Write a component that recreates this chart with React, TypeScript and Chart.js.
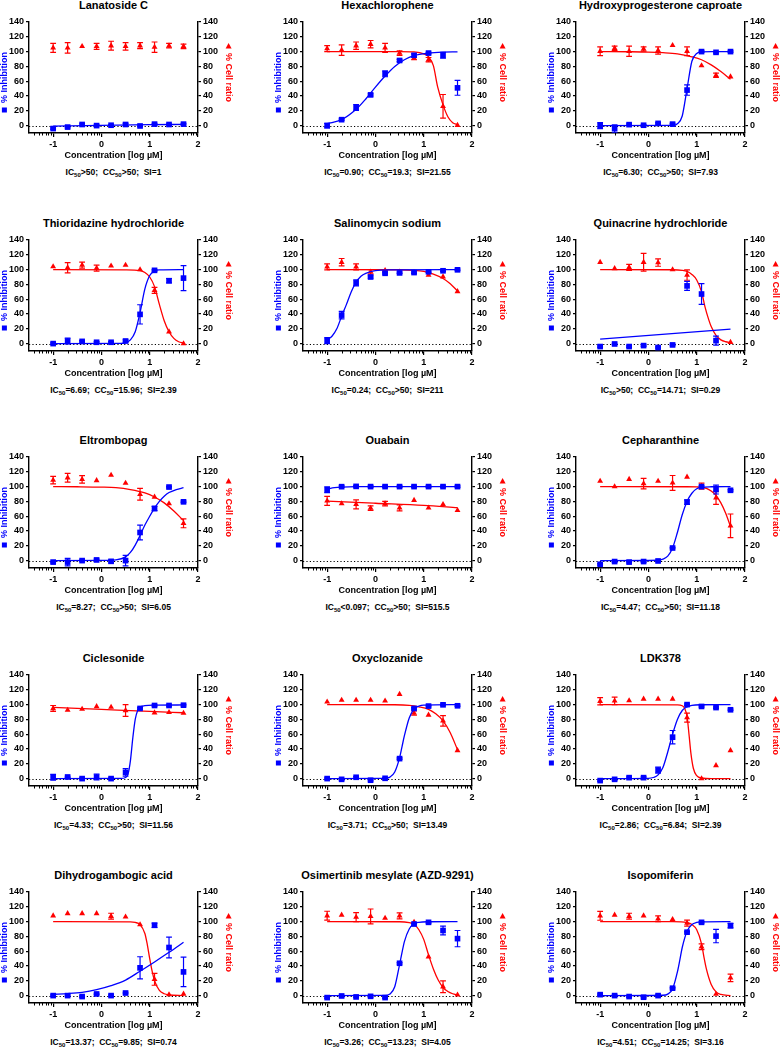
import React, { useEffect, useRef } from "react";
import { Chart, registerables } from "chart.js";

Chart.register(...registerables);

const FONT = "'Liberation Sans', Arial, Helvetica, sans-serif";
const BLUE = "#0000ff";
const RED = "#ff0000";

// ---------- shared axis data ----------
const concLog = [-1, -0.7, -0.4, -0.1, 0.2, 0.5, 0.8, 1.1, 1.4, 1.7];
const yTickValues = [0, 20, 40, 60, 80, 100, 120, 140];
const xTickValues = [-1, 0, 1, 2];
const minorDecades = [-2, -1, 0, 1];
const minorMultipliers = [2, 3, 4, 5, 6, 7, 8, 9];
const leftTitle = "% Inhibition";
const rightTitle = "% Cell ratio";
const xTitle = "Concentration [log \u00B5M]";

const titles = [
  "Lanatoside C",
  "Hexachlorophene",
  "Hydroxyprogesterone caproate",
  "Thioridazine hydrochloride",
  "Salinomycin sodium",
  "Quinacrine hydrochloride",
  "Eltrombopag",
  "Ouabain",
  "Cepharanthine",
  "Ciclesonide",
  "Oxyclozanide",
  "LDK378",
  "Dihydrogambogic acid",
  "Osimertinib mesylate (AZD-9291)",
  "Isopomiferin",
];
const icLabels = [">50", "=0.90", "=6.30", "=6.69", "=0.24", ">50", "=8.27", "<0.097", "=4.47", "=4.33", "=3.71", "=2.86", "=13.37", "=3.26", "=4.51"];
const ccLabels = [">50", "=19.3", ">50", "=15.96", ">50", "=14.71", ">50", ">50", ">50", ">50", ">50", "=6.84", "=9.85", "=13.23", "=14.25"];
const siLabels = ["=1", "=21.55", "=7.93", "=2.39", "=211", "=0.29", "=6.05", "=515.5", "=11.18", "=11.56", "=13.49", "=2.39", "=0.74", "=4.05", "=3.16"];

type Pt = [number, number];
type Val = number | null;

// ---------- Lanatoside C ----------
const lanInh: Val[] = [-4, -2, 1.5, 0, 0.5, 1.5, -0.5, 2, 1.5, 2];
const lanInhErr = [1, 1, 1, 1, 1, 1.5, 1, 1, 1, 1];
const lanCell: Val[] = [105, 105, 107, 107, 108, 107, 108, 106, 108, 107];
const lanCellErr = [6, 7, 0, 4, 6, 5, 4, 7, 3, 3];
const lanInhFit: Pt[] = [[-1, -0.8], [0, 0.4], [1, 1.2], [1.7, 1.6]];
const lanCellFit: Pt[] | null = null;

// ---------- Hexachlorophene ----------
const hexInh: Val[] = [0, 8, 24.5, 41.5, 70, 88, 95, 98, 95, 51];
const hexInhErr = [3, 1, 4, 1.5, 4, 1.5, 2, 1, 4, 10];
const hexCell: Val[] = [104, 102, 108, 110, 105, 98, 91, 89, 26, 0.5];
const hexCellErr = [4, 7, 5, 5, 6, 3, 2, 3, 16, 0];
const hexInhFit: Pt[] = [[-1, 2.5], [-0.7, 8], [-0.4, 22], [-0.2, 36], [0, 52], [0.2, 67], [0.4, 80], [0.6, 89], [0.8, 94.5], [1.1, 97.8], [1.4, 99.2], [1.7, 99.7]];
const hexCellFit: Pt[] = [[-1, 100], [0.5, 100], [0.8, 99.5], [1.0, 97], [1.1, 93], [1.2, 81], [1.29, 52], [1.4, 28], [1.5, 12], [1.6, 4], [1.7, 1.5]];

// ---------- Hydroxyprogesterone caproate ----------
const hpcInh: Val[] = [0, -4, 1.3, 0.5, 3, 2, 48, 100, 99, 100];
const hpcInhErr = [4, 5, 1, 1, 1, 1, 7, 1, 1, 1];
const hpcCell: Val[] = [100.5, 104.5, 100.5, 103.5, 101.5, 108.5, 100.5, 81, 68, 66];
const hpcCellErr = [6, 3, 7, 3, 5, 0, 6, 0, 3, 0];
const hpcInhFit: Pt[] = [[-1, 0], [0.5, 0.2], [0.6, 2.5], [0.7, 13], [0.8, 50], [0.9, 87], [1.0, 97.5], [1.1, 99.6], [1.3, 100], [1.7, 100]];
const hpcCellFit: Pt[] = [[-1, 100], [-0.4, 99.8], [0, 99.4], [0.3, 98.6], [0.6, 97], [0.9, 93], [1.1, 89], [1.3, 82], [1.5, 73], [1.7, 62.5]];

// ---------- Thioridazine hydrochloride ----------
const thiInh: Val[] = [0, 3.5, 3, 1.8, 1.8, 3.5, 39.5, 99, 85, 88.5];
const thiInhErr = [1, 4, 1, 1, 1, 1.5, 13, 1, 3, 17];
const thiCell: Val[] = [104, 102.5, 106, 102, 105, 106, 100, 72, 16, 0];
const thiCellErr = [0, 7, 4, 4, 0, 0, 0, 4, 0, 0];
const thiInhFit: Pt[] = [[-1, 0], [0.4, 0.3], [0.5, 1], [0.6, 5], [0.7, 16], [0.8, 42], [0.9, 74], [1.0, 92], [1.1, 98], [1.2, 99.5], [1.7, 100]];
const thiCellFit: Pt[] = [[-1, 100], [0.5, 99.7], [0.8, 98.5], [0.9, 96], [1.0, 90], [1.1, 77], [1.2, 53], [1.3, 31], [1.4, 16], [1.5, 7], [1.6, 2.5], [1.7, 1]];

// ---------- Salinomycin sodium ----------
const salInh: Val[] = [4, 38.5, 82, 90, 95, 95.5, 96, 97, 98.4, 99.7];
const salInhErr = [4, 5, 4, 1.5, 1, 1, 1, 1, 1, 1];
const salCell: Val[] = [103.7, 110, 103.7, 97, 99, 97, 96, 92.6, 90.4, 70.4];
const salCellErr = [4, 5, 4, 3, 1, 0, 0, 0, 0, 0];
const salInhFit: Pt[] = [[-1, 5], [-0.9, 10], [-0.8, 20], [-0.7, 37], [-0.6, 53], [-0.5, 70], [-0.4, 83], [-0.3, 91], [-0.2, 95], [0, 98.5], [0.3, 99.6], [1.7, 100]];
const salCellFit: Pt[] = [[-1, 100], [0.5, 99.8], [0.8, 99], [1.0, 97.5], [1.2, 94], [1.4, 88], [1.55, 81], [1.7, 71]];

// ---------- Quinacrine hydrochloride ----------
const quiInh: Val[] = [-4, -0.5, -4, -2.7, -5.3, -1.8, 78, 67, 4, null];
const quiInhErr = [1, 1, 1, 1, 1, 1, 6, 14, 6, 0];
const quiCell: Val[] = [110, 101.5, 103, 110, 109.5, 100, 92.6, null, null, 1.8];
const quiCellErr = [0, 0, 4, 12, 5, 0, 7, 0, 0, 0];
const quiInhFit: Pt[] = [[-1, 6], [1.7, 19.5]];
const quiCellFit: Pt[] = [[-1, 100], [0.5, 99.8], [0.7, 99], [0.8, 97.5], [0.9, 93.5], [1.0, 86], [1.1, 70], [1.17, 50], [1.25, 32], [1.3, 23], [1.4, 11], [1.5, 5], [1.6, 2.5], [1.7, 1.5]];

// ---------- Eltrombopag ----------
const eltInh: Val[] = [-2, -2, 0, 0.9, -1, 0, 38, 70.4, 99.4, 79.4];
const eltInhErr = [1, 5, 1, 1, 2, 7, 10, 3, 1, 1];
const eltCell: Val[] = [108.8, 112, 109.7, 108.3, 115.5, 104.8, 89.6, 86, 77, 50.4];
const eltCellErr = [5, 6, 5, 0, 0, 0, 8, 0, 0, 6];
const eltInhFit: Pt[] = [[-1, 0], [0, 0.2], [0.3, 1], [0.5, 5], [0.6, 11], [0.7, 21], [0.8, 34], [0.9, 48], [1.0, 60], [1.1, 71], [1.2, 80], [1.3, 87], [1.4, 92], [1.55, 96], [1.7, 98.5]];
const eltCellFit: Pt[] = [[-1, 100], [-0.5, 99.8], [0, 99.3], [0.3, 98.5], [0.6, 96], [0.9, 91.5], [1.1, 86], [1.3, 78], [1.5, 67], [1.7, 54]];

// ---------- Ouabain ----------
const ouaInh: Val[] = [95.8, 99.9, 100.3, 100, 100, 100, 100, 100, 100, 100];
const ouaInhErr = [4, 1, 1, 1, 1, 1, 1, 1, 1, 1];
const ouaCell: Val[] = [80.7, 77, 76, 71, 77, 71.3, 81.6, 71.3, 76, 68];
const ouaCellErr = [6, 0, 6, 3, 3, 4, 0, 0, 0, 0];
const ouaInhFit: Pt[] = [[-1, 96.5], [-0.85, 98.5], [-0.7, 99.4], [-0.4, 99.9], [1.7, 100]];
const ouaCellFit: Pt[] = [[-1, 80.5], [0, 77.5], [1, 74.5], [1.7, 71.5]];

// ---------- Cepharanthine ----------
const cepInh: Val[] = [-5, -1.3, -2, -1.3, -0.5, 17, 79, 100, 96, 95];
const cepInhErr = [1, 1, 1, 1, 1, 1, 3, 1, 6, 1];
const cepCell: Val[] = [107.4, 100, 110, 104, 107.4, 105, 113, 100.7, 85, 47];
const cepCellErr = [0, 0, 0, 7, 0, 10, 0, 4, 9, 16];
const cepInhFit: Pt[] = [[-1, 0], [0.2, 0.5], [0.3, 2], [0.4, 6], [0.5, 17], [0.6, 38], [0.7, 62], [0.8, 80], [0.9, 91], [1.0, 97], [1.1, 99], [1.3, 99.8], [1.7, 100]];
const cepCellFit: Pt[] = [[-1, 100], [0.8, 99.8], [1.0, 99.5], [1.1, 99], [1.2, 97.5], [1.3, 94], [1.4, 88], [1.5, 78], [1.6, 64], [1.7, 46]];

// ---------- Ciclesonide ----------
const cicInh: Val[] = [1.8, 2.2, 0, 2.2, 0, 8.4, 94.8, 98.8, 98.8, 99.2];
const cicInhErr = [4, 1, 1, 4, 1, 5, 1, 1, 1, 1];
const cicCell: Val[] = [94.8, 92.6, 94, 97.5, 96.6, 92, null, 89, 89.5, 88.6];
const cicCellErr = [4, 0, 0, 0, 0, 8, 0, 0, 0, 0];
const cicInhFit: Pt[] = [[-1, 0], [0.4, 0.2], [0.5, 1.5], [0.55, 6], [0.6, 24], [0.65, 55], [0.7, 80], [0.75, 92], [0.8, 96.5], [0.9, 98.5], [1.1, 99.3], [1.7, 99.5]];
const cicCellFit: Pt[] = [[-1, 96.2], [0, 93.5], [1, 90.8], [1.7, 89]];

// ---------- Oxyclozanide ----------
const oxyInh: Val[] = [0, -1, 1.8, -2.2, 0.4, 27, 94.8, 98, 99.7, 98.4];
const oxyInhErr = [1, 1, 1, 1, 1, 1, 1, 1, 1, 1];
const oxyCell: Val[] = [103.7, 106, 106, 106, 105, 114, 88.6, 86, 78, 38];
const oxyCellErr = [0, 0, 0, 0, 0, 0, 3, 0, 7, 0];
const oxyInhFit: Pt[] = [[-1, 0], [0.1, 0.2], [0.2, 0.6], [0.3, 2], [0.4, 9], [0.5, 28], [0.55, 43], [0.6, 58], [0.7, 82], [0.8, 94], [0.9, 98], [1.0, 99.4], [1.7, 100]];
const oxyCellFit: Pt[] = [[-1, 100], [0.4, 99.8], [0.7, 99], [0.9, 97], [1.1, 93.5], [1.25, 87.5], [1.4, 78], [1.55, 62], [1.7, 39]];

// ---------- LDK378 ----------
const ldkInh: Val[] = [-2.7, -1, 1.3, 1.3, 11.5, 56, 100, 97.5, 96, 93];
const ldkInhErr = [1, 1, 1, 1, 4, 9, 1, 1, 1, 1];
const ldkCell: Val[] = [104.5, 105, 105.4, 107.6, 107.6, 107.6, 82.4, 0, 17.7, 38];
const ldkCellErr = [5, 5, 0, 0, 0, 0, 6, 0, 0, 0];
const ldkInhFit: Pt[] = [[-1, 0], [0, 0.4], [0.1, 1.5], [0.2, 5], [0.3, 15], [0.4, 36], [0.5, 60], [0.6, 80], [0.7, 92], [0.8, 97], [0.9, 99], [1.1, 99.8], [1.7, 100]];
const ldkCellFit: Pt[] = [[-1, 100], [0.6, 99.7], [0.7, 98.5], [0.75, 95], [0.8, 84], [0.84, 60], [0.88, 34], [0.93, 14], [1.0, 4], [1.1, 0.8], [1.3, 0], [1.7, 0]];

// ---------- Dihydrogambogic acid ----------
const dhgInh: Val[] = [0, 0, -1.3, 2.2, 0, 3.5, 37.5, 95, 65, 32];
const dhgInhErr = [1, 1, 1, 1, 1, 1, 15, 3, 14, 20];
const dhgCell: Val[] = [108, 111, 111, 111, 107.3, 106.5, 96, 22, 1.3, 2.2];
const dhgCellErr = [0, 0, 0, 0, 4, 0, 0, 8, 0, 0];
const dhgInhFit: Pt[] = [[-1, 1.8], [-0.7, 2.8], [-0.4, 4.5], [-0.1, 8], [0.2, 13.5], [0.5, 21], [0.8, 33], [1.1, 45.5], [1.4, 58.5], [1.7, 72]];
const dhgCellFit: Pt[] = [[-1, 100], [0.6, 99.7], [0.7, 98.8], [0.8, 96], [0.9, 84], [0.95, 69], [1.0, 50], [1.05, 33], [1.1, 20], [1.2, 7], [1.3, 2.5], [1.4, 1], [1.7, 0]];

// ---------- Osimertinib mesylate ----------
const osiInh: Val[] = [-2.7, -0.5, -1.8, -1, -2.7, 43.7, 96.7, 99, 88, 77];
const osiInhErr = [1, 1, 1, 1, 1, 1, 1, 1, 6, 11];
const osiCell: Val[] = [108, 109, 106, 107, 104.7, 107.8, 99.4, 52.6, 12, 1];
const osiCellErr = [6, 0, 6, 10, 0, 4, 0, 0, 8, 0];
const osiInhFit: Pt[] = [[-1, 0], [0.2, 0.2], [0.3, 2], [0.4, 12], [0.5, 42], [0.55, 58], [0.6, 73], [0.7, 90], [0.8, 97], [0.9, 99], [1.1, 99.8], [1.7, 100]];
const osiCellFit: Pt[] = [[-1, 100], [0.5, 99.8], [0.7, 98.5], [0.8, 96.5], [0.9, 89], [1.0, 76], [1.1, 55], [1.2, 36], [1.3, 21], [1.4, 11], [1.5, 5.5], [1.6, 2.5], [1.7, 1]];

// ---------- Isopomiferin ----------
const isoInh: Val[] = [1.3, 0, -1.3, -2.2, 0, 10, 85.7, 99, 80.4, 94.5];
const isoInhErr = [1, 1, 1, 1, 1, 1, 1, 1, 9, 3];
const isoCell: Val[] = [107.8, 109, 107.3, 108, 103.8, 103, 98, 66, 2, 24];
const isoCellErr = [6, 0, 4, 0, 4, 0, 4, 4, 0, 5];
const isoInhFit: Pt[] = [[-1, 0], [0.3, 0.5], [0.4, 2], [0.5, 9], [0.6, 32], [0.65, 48], [0.7, 65], [0.8, 87], [0.9, 96], [1.0, 99], [1.1, 99.7], [1.7, 100]];
const isoCellFit: Pt[] = [[-1, 100], [0.5, 99.9], [0.8, 98.5], [0.9, 96], [1.0, 89], [1.1, 70], [1.15, 52], [1.2, 36], [1.3, 15], [1.4, 5], [1.5, 1.5], [1.7, 0]];

interface Panel {
  inh: Val[];
  inhErr: number[];
  cell: Val[];
  cellErr: number[];
  inhFit: Pt[];
  cellFit: Pt[] | null;
}

const panelData: Panel[] = [
  { inh: lanInh, inhErr: lanInhErr, cell: lanCell, cellErr: lanCellErr, inhFit: lanInhFit, cellFit: lanCellFit },
  { inh: hexInh, inhErr: hexInhErr, cell: hexCell, cellErr: hexCellErr, inhFit: hexInhFit, cellFit: hexCellFit },
  { inh: hpcInh, inhErr: hpcInhErr, cell: hpcCell, cellErr: hpcCellErr, inhFit: hpcInhFit, cellFit: hpcCellFit },
  { inh: thiInh, inhErr: thiInhErr, cell: thiCell, cellErr: thiCellErr, inhFit: thiInhFit, cellFit: thiCellFit },
  { inh: salInh, inhErr: salInhErr, cell: salCell, cellErr: salCellErr, inhFit: salInhFit, cellFit: salCellFit },
  { inh: quiInh, inhErr: quiInhErr, cell: quiCell, cellErr: quiCellErr, inhFit: quiInhFit, cellFit: quiCellFit },
  { inh: eltInh, inhErr: eltInhErr, cell: eltCell, cellErr: eltCellErr, inhFit: eltInhFit, cellFit: eltCellFit },
  { inh: ouaInh, inhErr: ouaInhErr, cell: ouaCell, cellErr: ouaCellErr, inhFit: ouaInhFit, cellFit: ouaCellFit },
  { inh: cepInh, inhErr: cepInhErr, cell: cepCell, cellErr: cepCellErr, inhFit: cepInhFit, cellFit: cepCellFit },
  { inh: cicInh, inhErr: cicInhErr, cell: cicCell, cellErr: cicCellErr, inhFit: cicInhFit, cellFit: cicCellFit },
  { inh: oxyInh, inhErr: oxyInhErr, cell: oxyCell, cellErr: oxyCellErr, inhFit: oxyInhFit, cellFit: oxyCellFit },
  { inh: ldkInh, inhErr: ldkInhErr, cell: ldkCell, cellErr: ldkCellErr, inhFit: ldkInhFit, cellFit: ldkCellFit },
  { inh: dhgInh, inhErr: dhgInhErr, cell: dhgCell, cellErr: dhgCellErr, inhFit: dhgInhFit, cellFit: dhgCellFit },
  { inh: osiInh, inhErr: osiInhErr, cell: osiCell, cellErr: osiCellErr, inhFit: osiInhFit, cellFit: osiCellFit },
  { inh: isoInh, inhErr: isoInhErr, cell: isoCell, cellErr: isoCellErr, inhFit: isoInhFit, cellFit: isoCellFit },
];

// ---------- layout ----------
const COL_LEFT = [29, 303, 576];
const ROW_TOP = [22, 240, 457, 675, 892];
const PLOT_W = 169;
const PLOT_H = 111;
const LEFT_W = 30;
const RIGHT_W = 36;
const TOP_PAD = 8;
const X_H = 28;
const TITLE_FONT_SIZE = 9;

const errorBarPlugin = {
  id: "errorBars",
  beforeDatasetDraw(chart: any, args: any) {
    const ds = chart.data.datasets[args.index];
    if (!ds.errorBars) return;
    const meta = args.meta;
    const xs = chart.scales[meta.xAxisID];
    const ys = chart.scales[meta.yAxisID];
    const ctx = chart.ctx;
    ctx.save();
    ctx.strokeStyle = ds.backgroundColor;
    ctx.lineWidth = 1.2;
    for (const p of ds.data) {
      if (!p.e) continue;
      const x = xs.getPixelForValue(p.x);
      const y1 = ys.getPixelForValue(p.y + p.e);
      const y2 = ys.getPixelForValue(p.y - p.e);
      ctx.beginPath();
      ctx.moveTo(x, y1);
      ctx.lineTo(x, y2);
      ctx.moveTo(x - 2.9, y1);
      ctx.lineTo(x + 2.9, y1);
      ctx.moveTo(x - 2.9, y2);
      ctx.lineTo(x + 2.9, y2);
      ctx.stroke();
    }
    ctx.restore();
  },
};

const axisExtrasPlugin = {
  id: "axisExtras",
  beforeDatasetsDraw(chart: any) {
    const { ctx, chartArea, scales } = chart;
    const y0 = Math.round(scales.y.getPixelForValue(0)) + 0.5;
    ctx.save();
    ctx.strokeStyle = "#000";
    ctx.lineWidth = 1;
    ctx.setLineDash([1.2, 2.2]);
    ctx.beginPath();
    ctx.moveTo(chartArea.left, y0);
    ctx.lineTo(chartArea.right, y0);
    ctx.stroke();
    ctx.restore();
  },
  afterDraw(chart: any) {
    const { ctx, chartArea, scales } = chart;
    const xs = scales.x;
    ctx.save();
    // minor log ticks on x axis
    ctx.strokeStyle = "#000";
    ctx.lineWidth = 1;
    ctx.beginPath();
    for (const d of minorDecades) {
      for (const k of minorMultipliers) {
        const v = d + Math.log10(k);
        if (v < xs.min || v > xs.max) continue;
        const x = Math.round(xs.getPixelForValue(v)) + 0.5;
        ctx.moveTo(x, chartArea.bottom);
        ctx.lineTo(x, chartArea.bottom + 2.5);
      }
    }
    ctx.stroke();
    // legend symbols beside the y-axis titles
    ctx.font = `bold ${TITLE_FONT_SIZE}px ${FONT}`;
    const cy = (chartArea.top + chartArea.bottom) / 2;
    const half = (TITLE_FONT_SIZE * 1.2) / 2;
    const wl = ctx.measureText(leftTitle).width;
    const xl = scales.y.left + half;
    ctx.fillStyle = BLUE;
    const sq = 5;
    const yl = cy + wl / 2 + 7;
    ctx.fillRect(xl - sq / 2, yl - sq / 2, sq, sq);
    const wr = ctx.measureText(rightTitle).width;
    const xr = scales.y2.right - half;
    const yr = cy - wr / 2 - 7;
    ctx.fillStyle = RED;
    ctx.beginPath();
    ctx.moveTo(xr, yr - 3);
    ctx.lineTo(xr + 3, yr + 2.4);
    ctx.lineTo(xr - 3, yr + 2.4);
    ctx.closePath();
    ctx.fill();
    ctx.restore();
  },
};

const tickFont = { family: FONT, size: 9, weight: "bold" as const };

function yScale(position: "left" | "right", title: string, color: string) {
  return {
    type: "linear" as const,
    position,
    min: -10,
    max: 140,
    afterBuildTicks: (s: any) => {
      s.ticks = yTickValues.map((v) => ({ value: v }));
    },
    afterFit: (s: any) => {
      s.width = position === "left" ? LEFT_W : RIGHT_W;
    },
    border: { display: true, color: "#000", width: 1.4 },
    grid: { display: true, drawOnChartArea: false, drawTicks: true, tickLength: 3, color: "#000", lineWidth: 1.2 },
    ticks: { color: "#000", font: tickFont, padding: 2, callback: (v: any) => String(v) },
    title: { display: true, text: title, color, font: { family: FONT, size: TITLE_FONT_SIZE, weight: "bold" as const }, padding: 0 },
  };
}

function ChartPanel({ index }: { index: number }) {
  const ref = useRef<HTMLCanvasElement | null>(null);
  const p = panelData[index];
  useEffect(() => {
    if (!ref.current) return;
    const inhPts = concLog
      .map((x, i) => ({ x, y: p.inh[i], e: p.inhErr[i] }))
      .filter((d) => d.y !== null);
    const cellPts = concLog
      .map((x, i) => ({ x, y: p.cell[i], e: p.cellErr[i] }))
      .filter((d) => d.y !== null);
    const datasets: any[] = [
      {
        data: inhPts,
        showLine: false,
        pointStyle: "rect",
        pointRadius: 4,
        pointBorderWidth: 0,
        backgroundColor: BLUE,
        borderColor: BLUE,
        errorBars: true,
        yAxisID: "y",
      },
      {
        data: p.inhFit.map(([x, y]) => ({ x, y })),
        borderColor: BLUE,
        borderWidth: 1.3,
        pointRadius: 0,
        cubicInterpolationMode: "monotone",
        fill: false,
        yAxisID: "y",
      },
      {
        data: cellPts,
        showLine: false,
        pointStyle: "triangle",
        pointRadius: 3.4,
        pointBorderWidth: 0,
        backgroundColor: RED,
        borderColor: RED,
        errorBars: true,
        yAxisID: "y2",
      },
    ];
    if (p.cellFit) {
      datasets.push({
        data: p.cellFit.map(([x, y]) => ({ x, y })),
        borderColor: RED,
        borderWidth: 1.3,
        pointRadius: 0,
        cubicInterpolationMode: "monotone",
        fill: false,
        yAxisID: "y2",
      });
    }
    const chart = new Chart(ref.current, {
      type: "line",
      data: { datasets },
      options: {
        animation: false,
        responsive: true,
        maintainAspectRatio: false,
        layout: { padding: { top: TOP_PAD, left: 0, right: 0, bottom: 0 } },
        plugins: { legend: { display: false }, tooltip: { enabled: false } },
        events: [],
        scales: {
          x: {
            type: "linear",
            min: -1.5,
            max: 2,
            afterBuildTicks: (s: any) => {
              s.ticks = xTickValues.map((v) => ({ value: v }));
            },
            afterFit: (s: any) => {
              s.height = X_H;
            },
            border: { display: true, color: "#000", width: 1.4 },
            grid: { display: true, drawOnChartArea: false, drawTicks: true, tickLength: 4, color: "#000", lineWidth: 1.2 },
            ticks: { color: "#000", font: tickFont, padding: 2, maxRotation: 0, autoSkip: false, callback: (v: any) => String(v) },
            title: { display: true, text: xTitle, color: "#000", font: { family: FONT, size: 9, weight: "bold" }, padding: 0 },
          },
          y: yScale("left", leftTitle, BLUE),
          y2: yScale("right", rightTitle, RED),
        } as any,
      },
      plugins: [errorBarPlugin, axisExtrasPlugin],
    });
    return () => chart.destroy();
  }, [index]);

  const col = index % 3;
  const row = Math.floor(index / 3);
  const PL = COL_LEFT[col];
  const T = ROW_TOP[row];
  const cx = PL + PLOT_W / 2;
  const subStyle: React.CSSProperties = { fontSize: "6px", position: "relative", top: "2px", verticalAlign: "baseline" };
  return (
    <>
      <div
        style={{
          position: "absolute",
          left: cx,
          top: T - 24,
          transform: "translateX(-50%)",
          whiteSpace: "nowrap",
          font: `bold 11px ${FONT}`,
          lineHeight: "14px",
          color: "#000",
        }}
      >
        {titles[index]}
      </div>
      <div
        style={{
          position: "absolute",
          left: PL - LEFT_W,
          top: T - TOP_PAD,
          width: LEFT_W + PLOT_W + RIGHT_W,
          height: TOP_PAD + PLOT_H + X_H,
        }}
      >
        <canvas ref={ref} />
      </div>
      <div
        style={{
          position: "absolute",
          left: cx,
          top: T + PLOT_H + 39 - 6,
          transform: "translateX(-50%)",
          whiteSpace: "pre",
          font: `bold 8.5px ${FONT}`,
          lineHeight: "12px",
          color: "#000",
        }}
      >
        IC<sub style={subStyle}>50</sub>
        {icLabels[index] + ";  "}CC<sub style={subStyle}>50</sub>
        {ccLabels[index] + ";  "}SI{siLabels[index]}
      </div>
    </>
  );
}

export default function App() {
  useEffect(() => {
    document.body.style.margin = "0";
  }, []);
  return (
    <div style={{ position: "absolute", left: 0, top: 0, width: 780, height: 1050, background: "#fff", overflow: "hidden" }}>
      {titles.map((_, i) => (
        <ChartPanel key={i} index={i} />
      ))}
    </div>
  );
}
